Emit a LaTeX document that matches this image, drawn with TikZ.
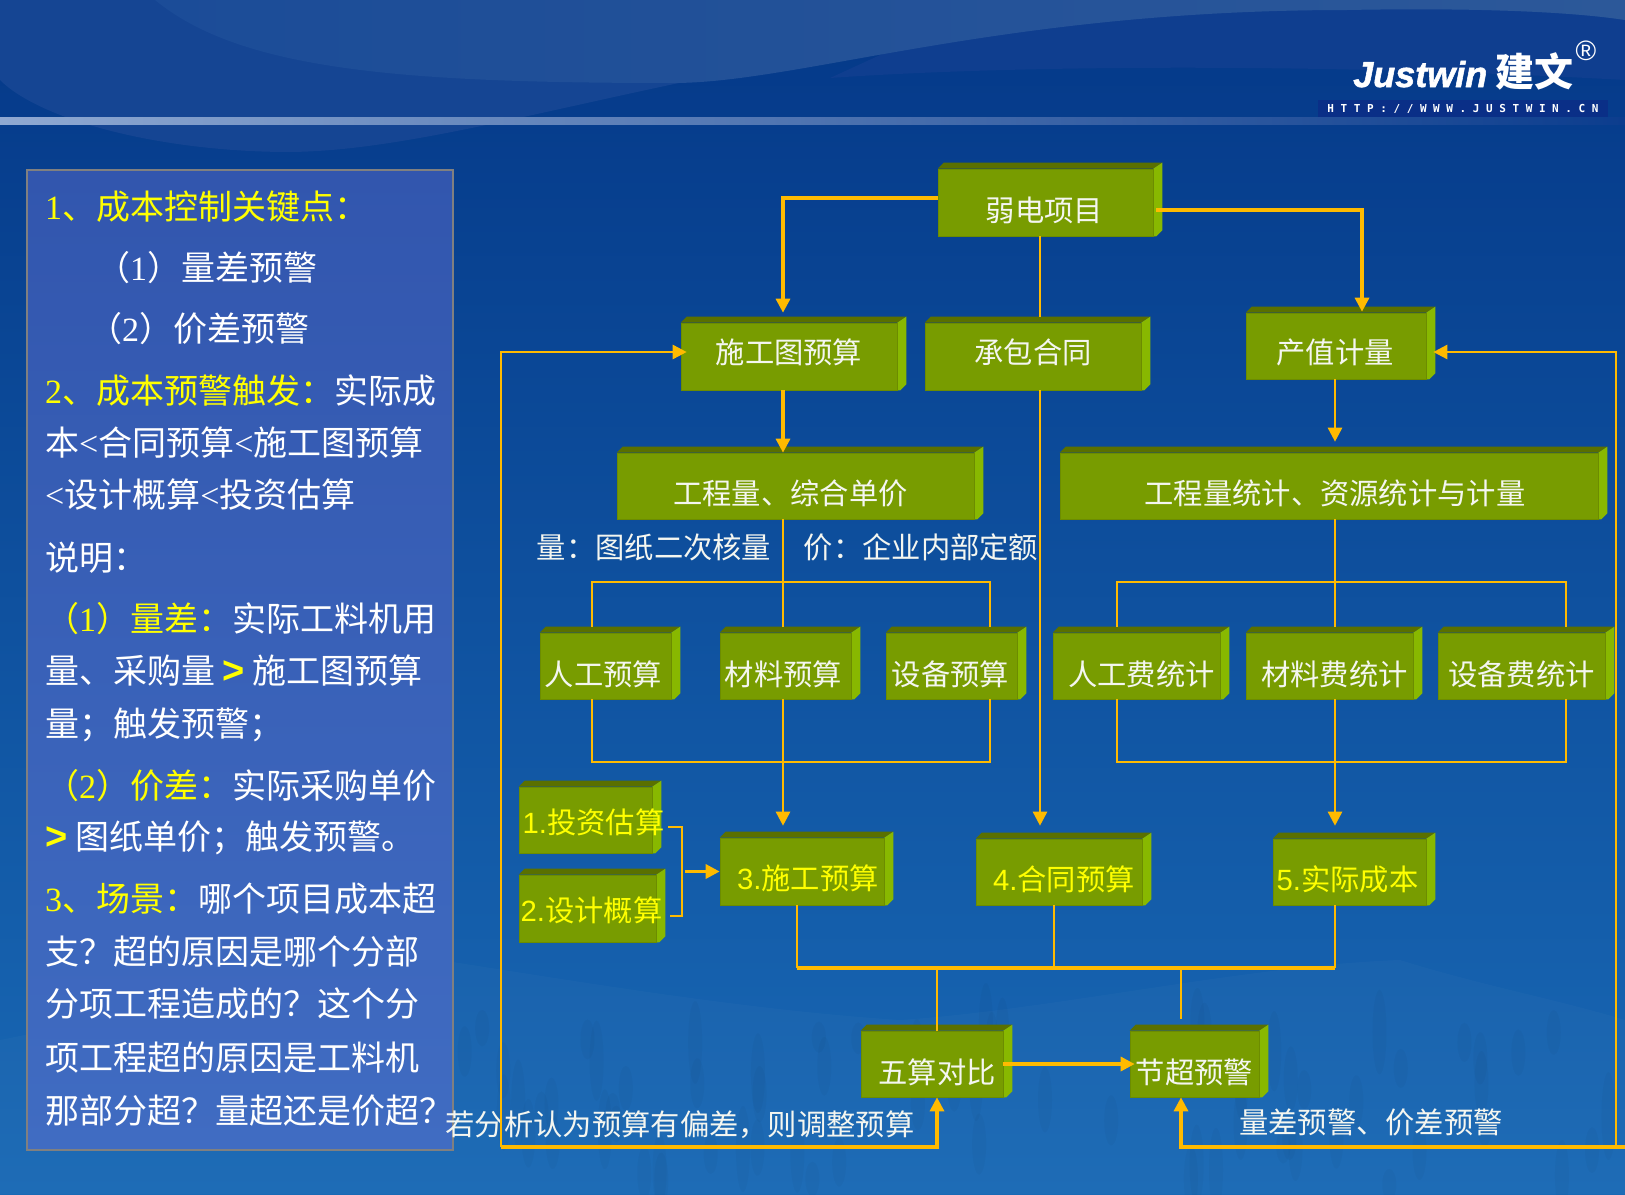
\documentclass[tikz,border=0pt]{standalone}
\usepackage{fontspec}
\usetikzlibrary{arrows.meta,backgrounds}
\newfontfamily\cjk{Noto Sans CJK SC}
\newfontfamily\serifdigit{Liberation Serif}
\newfontfamily\sansdigit{Liberation Sans}
\newfontfamily\logofont[FakeBold=1.5]{Liberation Sans}
\newfontfamily\urlfont[LetterSpace=60]{DejaVu Sans Mono}
\definecolor{bgtop}{HTML}{043888}
\definecolor{bgmid}{HTML}{0F52A2}
\definecolor{bgbot}{HTML}{1969B5}
\definecolor{waveA}{HTML}{154593}
\definecolor{waveBleft}{HTML}{1B4C98}
\definecolor{waveBright}{HTML}{2C5899}
\definecolor{waveC}{HTML}{0F3E8F}
\definecolor{striplight}{HTML}{8FA9D2}
\definecolor{stripdark}{HTML}{0C3D8E}
\definecolor{urlbox}{HTML}{0A2F87}
\definecolor{paneltop}{HTML}{3256AE}
\definecolor{panelbot}{HTML}{406CC2}
\definecolor{blockfront}{HTML}{789C00}
\definecolor{blocktop}{HTML}{5A7000}
\definecolor{blockside}{HTML}{88B800}
\definecolor{linegold}{HTML}{FFBA00}
\definecolor{hiyellow}{HTML}{FFFF00}
\definecolor{softwhite}{HTML}{F4F6F0}
\newcommand{\tx}[3]{\raisebox{\dimexpr-#2pt-11pt\relax}[0pt][0pt]{\makebox[0pt]{\hspace*{\dimexpr#1pt*2\relax}#3}}}
\newcommand{\yl}[1]{{\color{hiyellow}#1}}
\newcommand{\rd}[1]{{\serifdigit #1}}
\newcommand{\ad}[1]{{\sansdigit #1}}
\newcommand{\gt}{\yl{\sansdigit\bfseries\fontsize{38}{38}\selectfont >}}
\tikzset{
	block/.style={fill=blockfront, draw=blockfront!90!black, line width=0.6pt, inner sep=0pt, text=softwhite, font=\cjk\fontsize{29.3}{29.3}\selectfont},
	budget/.style={block, text=hiyellow},
	panelline/.style={anchor=base west, inner sep=0pt, text=white, font=\cjk\fontsize{34}{34}\selectfont},
	caption/.style={inner sep=0pt, text=softwhite, font=\cjk\fontsize{29.3}{29.3}\selectfont},
	conn/.style={draw=linegold, line width=3.2pt},
	thinconn/.style={draw=linegold, line width=2.6pt},
	tip/.style={-{Triangle[length=14pt,width=14pt]}}
}
\begin{document}
\begin{tikzpicture}[x=1pt, y=-1pt]
	\useasboundingbox (0,0) rectangle (1625,1194);
	\begin{pgfonlayer}{background}
		\shade[top color=bgtop, middle color=bgmid, bottom color=bgbot] (0,0) rectangle (1625,1194);
		\fill[white, opacity=0.025] (0,1040) .. controls (200,1000) and (300,960) .. (440,960) .. controls (600,985) and (750,1010) .. (900,1020) .. controls (1050,1010) and (1250,965) .. (1400,960) .. controls (1480,985) and (1560,1000) .. (1625,1020) -- (1625,1194) -- (0,1194) -- cycle;
		\pgfmathsetseed{7}
		\foreach \i in {1,...,70} {
			\pgfmathsetmacro{\mx}{460+1150*rnd}
			\pgfmathsetmacro{\my}{1020+165*rnd}
			\pgfmathsetmacro{\mh}{15+30*rnd}
			\fill[black, opacity=0.025] (\mx,\my) ellipse [x radius=7, y radius=\mh];
		}
		\fill[waveC] (830,78) .. controls (1000,66) and (1300,62) .. (1625,80) -- (1625,0) -- (1000,0) -- cycle;
		\fill[waveA] (0,80) .. controls (40,120) and (160,152) .. (290,152) .. controls (500,150) and (800,10) .. (1347,10) .. controls (1450,8) and (1560,10) .. (1625,20) -- (1625,0) -- (0,0) -- cycle;
		\shade[left color=waveBleft, right color=waveBright] (155,0) .. controls (240,70) and (400,83) .. (673,83) .. controls (800,83) and (1000,10) .. (1347,10) .. controls (1450,8) and (1560,10) .. (1625,20) -- (1625,0) -- cycle;
		\shade[left color=striplight, right color=stripdark] (0,117) rectangle (1625,124);
		\fill[urlbox] (1318,100) rectangle (1608,117);
		\shade[top color=paneltop, bottom color=panelbot, draw=gray, line width=2.5pt] (27,170) rectangle (453,1150);
	\end{pgfonlayer}

	\node[anchor=base west, inner sep=0pt, text=white, font=\logofont\bfseries\itshape\fontsize{36}{36}\selectfont] (logoname) at (1353,87) {Justwin};
	\node[anchor=west, inner sep=0pt, text=white, font=\cjk\bfseries\fontsize{39}{39}\selectfont] (logocjk) at (1495,71) {建文};
	\node[inner sep=0pt, text=white, font=\sansdigit\fontsize{28}{28}\selectfont] (logoreg) at (1586,51) {®};
	\node[inner sep=0pt, text=white, font=\urlfont\bfseries\fontsize{11}{11}\selectfont] (logourl) at (1463,108.5) {HTTP://WWW.JUSTWIN.CN};

	\node[panelline] (line1) at (45,219) {\yl{\rd{1}、成本控制关键点：}};
	\node[panelline] (line2) at (96,280) {（\rd{1}）量差预警};
	\node[panelline] (line3) at (88,341) {（\rd{2}）价差预警};
	\node[panelline] (line4) at (45,403) {\yl{\rd{2}、成本预警触发：}实际成};
	\node[panelline] (line5) at (45,455) {本\rd{<}合同预算\rd{<}施工图预算};
	\node[panelline] (line6) at (45,507) {\rd{<}设计概算\rd{<}投资估算};
	\node[panelline] (line7) at (45,570) {说明：};
	\node[panelline] (line8) at (45,631) {\yl{（\rd{1}）量差：}实际工料机用};
	\node[panelline] (line9) at (45,683) {量、采购量 \gt{} 施工图预算};
	\node[panelline] (line10) at (45,736) {量；触发预警；};
	\node[panelline] (line11) at (45,798) {\yl{（\rd{2}）价差：}实际采购单价};
	\node[panelline] (line12) at (45,849) {\gt{} 图纸单价；触发预警。};
	\node[panelline] (line13) at (45,911) {\yl{\rd{3}、场景：}哪个项目成本超};
	\node[panelline] (line14) at (45,964) {支？超的原因是哪个分部};
	\node[panelline] (line15) at (45,1016) {分项工程造成的？这个分};
	\node[panelline] (line16) at (45,1070) {项工程超的原因是工料机};
	\node[panelline] (line17) at (45,1123) {那部分超？量超还是价超？};

	\node[block, minimum width=215pt, minimum height=67pt] (ruodian) at (1045.5,202.5) {\tx{-1}{8}{弱电项目}};
	\node[block, minimum width=216pt, minimum height=67pt] (shigongtu) at (789,356.5) {\tx{0}{-4}{施工图预算}};
	\node[block, minimum width=216pt, minimum height=67pt] (chengbao) at (1033,356.5) {\tx{0}{-4}{承包合同}};
	\node[block, minimum width=180pt, minimum height=66pt] (chanzhi) at (1336,346) {\tx{-1}{6}{产值计量}};
	\node[block, minimum width=357pt, minimum height=66pt] (zonghe) at (795.5,486) {\tx{-5}{7}{工程量、综合单价}};
	\node[block, minimum width=538pt, minimum height=66pt] (tongji) at (1329,486) {\tx{6}{7}{工程量统计、资源统计与计量}};
	\node[block, minimum width=131pt, minimum height=66pt] (rengong) at (605.5,666) {\tx{-2}{8}{人工预算}};
	\node[block, minimum width=131pt, minimum height=66pt] (cailiao) at (785.5,666) {\tx{-2}{8}{材料预算}};
	\node[block, minimum width=131pt, minimum height=66pt] (shebei) at (951.5,666) {\tx{-1}{8}{设备预算}};
	\node[block, minimum width=167pt, minimum height=66pt] (rengongfei) at (1136.5,666) {\tx{5}{8}{人工费统计}};
	\node[block, minimum width=167pt, minimum height=66pt] (cailiaofei) at (1329.5,666) {\tx{5}{8}{材料费统计}};
	\node[block, minimum width=167pt, minimum height=66pt] (shebeifei) at (1521.5,666) {\tx{0}{8}{设备费统计}};
	\node[budget, minimum width=133pt, minimum height=66pt] (gusuan) at (585.5,820) {\tx{8}{2}{\ad{1.}投资估算}};
	\node[budget, minimum width=137pt, minimum height=67pt] (gaisuan) at (587.5,908.5) {\tx{4}{2}{\ad{2.}设计概算}};
	\node[budget, minimum width=164pt, minimum height=67pt] (yusuan) at (802,871.5) {\tx{6}{7}{\ad{3.}施工预算}};
	\node[budget, minimum width=166pt, minimum height=66pt] (hetong) at (1059,872) {\tx{5}{7}{\ad{4.}合同预算}};
	\node[budget, minimum width=153pt, minimum height=66pt] (chengben) at (1349.5,872) {\tx{-2}{7}{\ad{5.}实际成本}};
	\node[block, minimum width=142pt, minimum height=66pt] (duibi) at (932,1064) {\tx{5}{8}{五算对比}};
	\node[block, minimum width=129pt, minimum height=66pt] (jiechao) at (1194.5,1064) {\tx{0}{8}{节超预警}};
	\begin{pgfonlayer}{background}
		\foreach \n in {ruodian,shigongtu,chengbao,chanzhi,zonghe,tongji,rengong,cailiao,shebei,rengongfei,cailiaofei,shebeifei,gusuan,gaisuan,yusuan,hetong,chengben,duibi,jiechao} {
			\fill[blocktop] (\n.north west) -- ++(6,-6) -- ([shift={(9,-6)}]\n.north east) -- (\n.north east) -- cycle;
			\fill[blockside] (\n.north east) -- ++(9,-6) -- ([shift={(9,-6)}]\n.south east) -- ([shift={(3,0)}]\n.south east) -- (\n.south east) -- cycle;
		}
	\end{pgfonlayer}

	\node[caption] (quantity) at (654,547) {量：图纸二次核量};
	\node[caption] (price) at (921,547) {价：企业内部定额};
	\node[caption] (adjust) at (680,1125) {若分析认为预算有偏差，则调整预算};
	\node[caption] (warning) at (1371,1122) {量差预警、价差预警};

	\coordinate (colL) at (783,0);
	\coordinate (colM) at (1040,0);
	\coordinate (colT) at (1362,0);
	\coordinate (colR) at (1335,0);
	\coordinate (colA) at (797,0);
	\coordinate (colB) at (1054,0);
	\coordinate (colW) at (937,0);
	\coordinate (colJ) at (1181,0);
	\coordinate (topL1) at (592,582);
	\coordinate (topL2) at (990,582);
	\coordinate (botL1) at (592,762);
	\coordinate (botL2) at (990,762);
	\coordinate (topR1) at (1117,582);
	\coordinate (topR2) at (1566,582);
	\coordinate (botR1) at (1117,762);
	\coordinate (botR2) at (1566,762);
	\coordinate (brace) at (682,871.5);
	\coordinate (braceA) at (668,827);
	\coordinate (braceB) at (670,916);
	\coordinate (busL) at (797,968);
	\coordinate (busR) at (1335,968);
	\coordinate (loopL) at (501,1147);
	\coordinate (loopR) at (1616,1147);
	\coordinate (loopEnd) at (1625,1147);

	\draw[conn, tip] ([yshift=4.5]ruodian.west) -| ([yshift=10]colL |- shigongtu.north);
	\draw[conn, tip] ([xshift=3,yshift=-7.5]ruodian.east) -| ([yshift=1]colT |- chanzhi.north);
	\draw[thinconn] (colM |- ruodian.south) -- ([yshift=6]colM |- chengbao.north);
	\draw[thinconn, tip] (colM |- chengbao.south) -- ([yshift=13]colM |- hetong.north);
	\draw[conn, tip] (colL |- shigongtu.south) -- (colL |- zonghe.north);
	\draw[thinconn] (colL |- zonghe.south) -- ([yshift=6]colL |- cailiao.north);
	\draw[thinconn, tip] (colL |- cailiao.south) -- ([yshift=12]colL |- yusuan.north);
	\draw[thinconn] ([yshift=6]topL1 |- rengong.north) -- (topL1) -- (topL2) -- ([yshift=6]topL2 |- shebei.north);
	\draw[thinconn] (botL1 |- rengong.south) -- (botL1) -- (botL2) -- (botL2 |- shebei.south);
	\draw[thinconn, tip] (colR |- chanzhi.south) -- ([yshift=11]colR |- tongji.north);
	\draw[thinconn] (colR |- tongji.south) -- ([yshift=6]colR |- cailiaofei.north);
	\draw[thinconn, tip] (colR |- cailiaofei.south) -- ([yshift=13]colR |- chengben.north);
	\draw[thinconn] ([yshift=6]topR1 |- rengongfei.north) -- (topR1) -- (topR2) -- ([yshift=6]topR2 |- shebeifei.north);
	\draw[thinconn] (botR1 |- rengongfei.south) -- (botR1) -- (botR2) -- (botR2 |- shebeifei.south);
	\draw[thinconn] (braceA) -| (brace) |- (braceB);
	\draw[conn, tip] ([xshift=3]brace) -- (yusuan.west);
	\draw[thinconn] (colA |- yusuan.south) -- (busL);
	\draw[thinconn] (colB |- hetong.south) -- (colB |- busL);
	\draw[thinconn] (colR |- chengben.south) -- (busR);
	\draw[conn] (busL) -- (busR);
	\draw[thinconn] (colW |- busL) -- (colW |- duibi.north);
	\draw[thinconn] (colJ |- busL) -- ([yshift=12]colJ |- jiechao.north);
	\draw[conn, tip] (duibi.east) -- ([xshift=5]jiechao.west);
	\draw[thinconn, tip] (loopL) |- ([xshift=6,yshift=4.5]shigongtu.west);
	\draw[conn, tip] (loopL) -- (colW |- loopL) -- (colW |- duibi.south);
	\draw[thinconn, tip] (loopR) |- ([xshift=7,yshift=-6]chanzhi.east);
	\draw[conn, tip] (loopEnd) -- (colJ |- loopEnd) -- (colJ |- jiechao.south);
\end{tikzpicture}
\end{document}
